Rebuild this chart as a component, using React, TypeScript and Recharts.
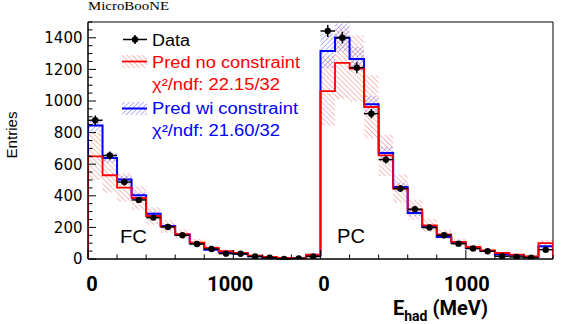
import React from "react";
import { ComposedChart, Line, Area, Scatter, XAxis, YAxis, ErrorBar, ReferenceArea } from "recharts";

// ---- data (bins of 100 MeV; FC 16 bins then PC 16 bins) ----
const fcData = [878, 655, 487, 374, 262, 203, 150, 95, 63, 34, 33, 16, 8, 0, 3, 16];
const pcData = [1443, 1401, 1211, 920, 629, 446, 315, 199, 150, 97, 66, 49, 17, 13, 9, 59];
const fcDataErr = [30, 26, 22, 19, 16, 14, 12, 10, 8, 6, 6, 4, 3, 1, 2, 4];
const pcDataErr = [38, 37, 35, 30, 25, 21, 18, 14, 12, 10, 8, 7, 4, 4, 3, 8];

const fcPredNo = [650, 530, 452, 386, 272, 205, 158, 104, 70, 49, 38, 21, 13, 7, 6, 27];
const pcPredNo = [1063, 1241, 1205, 962, 656, 446, 313, 213, 156, 108, 76, 55, 38, 28, 17, 101];
const fcPredNoErr = [150, 110, 90, 75, 55, 40, 30, 22, 15, 11, 8, 5, 4, 3, 3, 8];
const pcPredNoErr = [220, 230, 210, 200, 130, 90, 63, 42, 30, 22, 16, 12, 9, 7, 5, 20];

const fcPredWi = [845, 640, 503, 403, 287, 209, 154, 100, 59, 42, 33, 17, 9, 4, 4, 20];
const pcPredWi = [1317, 1401, 1266, 979, 671, 456, 291, 203, 139, 103, 70, 50, 28, 22, 13, 80];
const fcPredWiErr = [40, 30, 25, 20, 15, 11, 8, 6, 5, 4, 3, 2, 2, 1, 1, 5];
const pcPredWiErr = [110, 90, 75, 55, 40, 28, 20, 14, 10, 8, 6, 5, 4, 3, 2, 10];

const xLabelPos = [0, 10, 16, 26];
const xLabelText = ["0", "1000", "0", "1000"];
const xLabelDx = [4, -3, 3.5, 1];
const yLabelTicks = [0, 200, 400, 600, 800, 1000, 1200, 1400];
const yMax = 1500;

// ---- derived tables ----
const dataVals = [...fcData, ...pcData];
const dataErr = [...fcDataErr, ...pcDataErr];
const predNo = [...fcPredNo, ...pcPredNo];
const predNoErr = [...fcPredNoErr, ...pcPredNoErr];
const predWi = [...fcPredWi, ...pcPredWi];
const predWiErr = [...fcPredWiErr, ...pcPredWiErr];
const nBins = dataVals.length;

const histLine = (vals: number[]) => {
  const pts: { x: number; y: number }[] = [{ x: 0, y: 0 }];
  vals.forEach((v, i) => pts.push({ x: i, y: v }));
  pts.push({ x: vals.length, y: vals[vals.length - 1] });
  pts.push({ x: vals.length, y: 0 });
  return pts;
};
const histBand = (vals: number[], errs: number[]) => {
  const pts = vals.map((v, i) => ({ x: i, band: [Math.max(0, v - errs[i]), v + errs[i]] }));
  pts.push({ x: vals.length, band: pts[pts.length - 1].band });
  return pts;
};

const lineNo = histLine(predNo);
const lineWi = histLine(predWi);
const bandNo = histBand(predNo, predNoErr);
const bandWi = histBand(predWi, predWiErr);
const points = dataVals.map((v, i) => ({ x: i + 0.5, y: v, ex: 0.5, ey: dataErr[i] }));

const xTicks: number[] = [];
for (let i = 0; i <= nBins; i += 2) xTicks.push(i);
const yTicks: number[] = [];
for (let v = 0; v <= yMax; v += 50) yTicks.push(v);

const XTick = (props: any) => {
  const { x, y, payload } = props;
  const li = xLabelPos.indexOf(payload.value);
  const major = li >= 0;
  return (
    <g>
      <line x1={x} x2={x} y1={y} y2={y - (major ? 9 : 4.5)} stroke="#000" strokeWidth={1} />
      {major && (
        <text x={x + xLabelDx[li]} y={y + 32} textAnchor="middle" fontFamily="Roboto" fontWeight="bold" fontSize={20} fill="#000">
          {xLabelText[li]}
        </text>
      )}
    </g>
  );
};

const YTick = (props: any) => {
  const { x, y, payload } = props;
  const v = payload.value;
  const major = yLabelTicks.includes(v);
  return (
    <g>
      <line x1={x} x2={x + (major ? 8 : 4.5)} y1={y} y2={y} stroke="#000" strokeWidth={1} />
      {major && (
        <text x={x - 5.5} y={y} dy="0.36em" textAnchor="end" fontFamily="DejaVu Sans" fontSize={15} fill="#000">
          {v}
        </text>
      )}
    </g>
  );
};

const Dot = (props: any) => {
  const { cx, cy } = props;
  return <circle cx={cx} cy={cy} r={3.2} fill="#000" />;
};

const Patterns = ({ suffix }: { suffix: string }) => (
  <defs>
    <pattern id={"redHatch" + suffix} patternUnits="userSpaceOnUse" width="3.6" height="3.6" patternTransform="rotate(-45)">
      <line x1="0" y1="0" x2="0" y2="3.6" stroke="#f06a6a" strokeOpacity={0.9} strokeWidth="1" />
    </pattern>
    <pattern id={"blueHatch" + suffix} patternUnits="userSpaceOnUse" width="3.4" height="3.4" patternTransform="rotate(45)">
      <line x1="0" y1="0" x2="0" y2="3.4" stroke="#5050ee" strokeOpacity={0.85} strokeWidth="1" />
    </pattern>
  </defs>
);

export default function App() {
  return (
    <div style={{ position: "absolute", left: 0, top: 0, width: 568, height: 324, background: "#fff" }}>
      <ComposedChart width={568} height={324} margin={{ top: 22, right: 15, left: 0, bottom: 0 }}>
        <Patterns suffix="" />
        <XAxis
          type="number"
          dataKey="x"
          domain={[0, nBins]}
          ticks={xTicks}
          tick={<XTick />}
          tickLine={false}
          tickSize={0}
          tickMargin={0}
          height={65}
          axisLine={{ stroke: "#000" }}
          allowDataOverflow
          interval={0}
        />
        <YAxis
          type="number"
          domain={[0, yMax]}
          ticks={yTicks}
          tick={<YTick />}
          tickLine={false}
          tickSize={0}
          tickMargin={0}
          width={88}
          axisLine={{ stroke: "#000" }}
          allowDataOverflow
          interval={0}
        />
        <Area data={bandNo} dataKey="band" type="stepAfter" stroke="none" fill="url(#redHatch)" fillOpacity={1} isAnimationActive={false} />
        <Area data={bandWi} dataKey="band" type="stepAfter" stroke="none" fill="url(#blueHatch)" fillOpacity={1} isAnimationActive={false} />
        <Line data={lineWi} dataKey="y" type="stepAfter" stroke="#0000ff" strokeWidth={2} dot={false} isAnimationActive={false} />
        <Line data={lineNo} dataKey="y" type="stepAfter" stroke="#ff0000" strokeWidth={1.8} dot={false} isAnimationActive={false} />
        <Scatter data={points} dataKey="y" shape={<Dot />} isAnimationActive={false}>
          <ErrorBar dataKey="ex" direction="x" width={0} stroke="#000" strokeWidth={1.5} />
          <ErrorBar dataKey="ey" direction="y" width={0} stroke="#000" strokeWidth={1.5} />
        </Scatter>
        <ReferenceArea x1={0} x2={nBins} y1={0} y2={yMax} fill="none" stroke="#000" strokeWidth={1} ifOverflow="visible" />
      </ComposedChart>

      <svg width={568} height={324} style={{ position: "absolute", left: 0, top: 0, pointerEvents: "none" }}>
        <Patterns suffix="L" />
        <text x={88} y={10} fontFamily="Liberation Serif" fontSize={12.5} textLength={81} lengthAdjust="spacingAndGlyphs" fill="#000">
          MicroBooNE
        </text>

        {/* legend */}
        <line x1={123} x2={147} y1={39.5} y2={39.5} stroke="#000" strokeWidth={1.5} />
        <line x1={135} x2={135} y1={35} y2={44} stroke="#000" strokeWidth={1.5} />
        <circle cx={135} cy={39.5} r={3.2} fill="#000" />
        <text x={152} y={45.5} fontFamily="Liberation Sans" fontSize={16} textLength={38} lengthAdjust="spacingAndGlyphs" fill="#000">Data</text>

        <rect x={122} y={55} width={25} height={13} fill="url(#redHatchL)" />
        <line x1={122} x2={147} y1={61.5} y2={61.5} stroke="#ff0000" strokeWidth={1.8} />
        <text x={152} y={67.5} fontFamily="Liberation Sans" fontSize={16} textLength={148} lengthAdjust="spacingAndGlyphs" fill="#ff0000">Pred no constraint</text>
        <text x={152} y={90} fontFamily="Liberation Sans" fontSize={16} textLength={128} lengthAdjust="spacingAndGlyphs" fill="#ff0000">χ²/ndf: 22.15/32</text>

        <rect x={122} y={102} width={25} height={13} fill="url(#blueHatchL)" />
        <line x1={122} x2={147} y1={108.5} y2={108.5} stroke="#0000ff" strokeWidth={2} />
        <text x={152} y={114} fontFamily="Liberation Sans" fontSize={16} textLength={146} lengthAdjust="spacingAndGlyphs" fill="#0000ff">Pred wi constraint</text>
        <text x={152} y={135.5} fontFamily="Liberation Sans" fontSize={16} textLength={128} lengthAdjust="spacingAndGlyphs" fill="#0000ff">χ²/ndf: 21.60/32</text>

        <text x={120} y={243} fontFamily="Liberation Sans" fontSize={19} textLength={27} lengthAdjust="spacingAndGlyphs" fill="#000">FC</text>
        <text x={337} y={243} fontFamily="Liberation Sans" fontSize={20} textLength={28} lengthAdjust="spacingAndGlyphs" fill="#000">PC</text>

        <text
          x={12}
          y={135}
          transform="rotate(-90 12 135)"
          textAnchor="middle"
          dy="0.36em"
          fontFamily="Liberation Sans"
          fontSize={15}
          textLength={47}
          lengthAdjust="spacingAndGlyphs"
          fill="#000"
        >
          Entries
        </text>

        <text x={393} y={315} fontFamily="Roboto" fontWeight="bold" fontSize={20} fill="#000">
          E
          <tspan fontSize={14} dy={6}>had</tspan>
          <tspan fontSize={20} dy={-6}> (MeV)</tspan>
        </text>
      </svg>
    </div>
  );
}
